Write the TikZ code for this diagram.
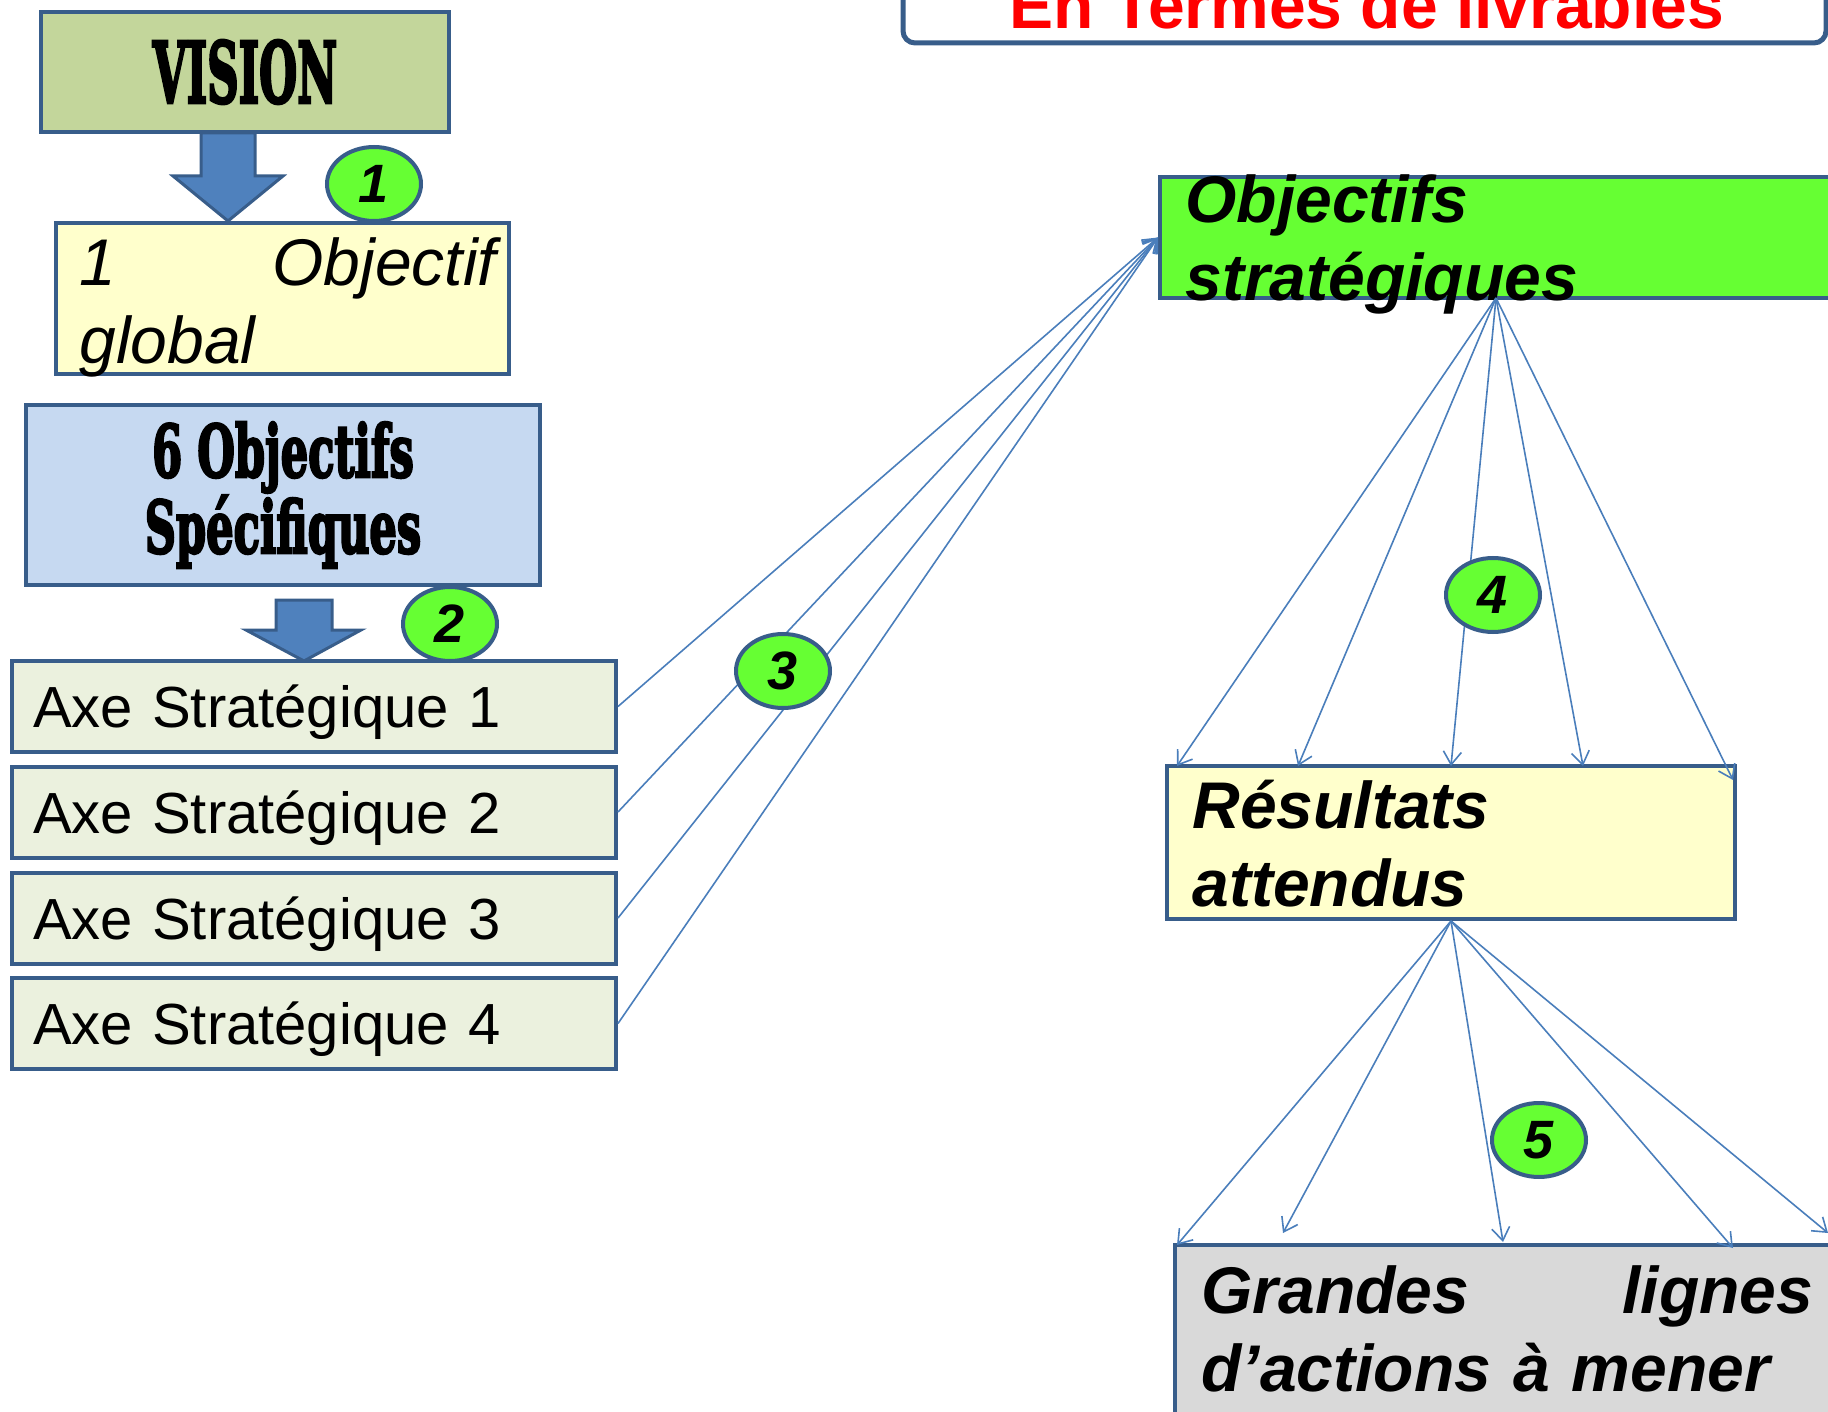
\documentclass[tikz,border=0pt]{standalone}
\usepackage{fontspec}
\usepackage{graphicx}
\setmainfont{Liberation Sans}
\newfontfamily\heavyfont{DejaVu Serif}[BoldFeatures={FakeBold=4}]
\usetikzlibrary{arrows.meta,shapes.geometric}
\definecolor{boxline}{HTML}{385D8A}
\definecolor{linkblue}{HTML}{4A7EBB}
\definecolor{arrowfill}{HTML}{4F81BD}
\definecolor{visionfill}{HTML}{C3D69B}
\definecolor{paleyellow}{HTML}{FFFFCC}
\definecolor{specfill}{HTML}{C6D9F1}
\definecolor{axefill}{HTML}{EBF1DE}
\definecolor{flashgreen}{HTML}{66FF33}
\definecolor{greyfill}{HTML}{D9D9D9}
\newcommand{\narrow}[2]{\scalebox{#1}[1]{#2}}
\begin{document}
\begin{tikzpicture}[x=0.5pt, y=-0.5pt]
\tikzset{box/.style={draw=boxline, line width=2pt, inner sep=0pt},
  axe/.style={box, fill=axefill, minimum width=302pt, minimum height=45.5pt, text width=281pt, text depth=0pt, align=left, font=\fontsize{29}{34}\selectfont},
  bigtxt/.style={inner sep=0pt, anchor=base west, align=left, text width=250pt, font=\fontsize{33}{39}\selectfont\bfseries\itshape},
  num/.style={ellipse, draw=boxline, line width=2pt, fill=flashgreen, minimum width=47pt, minimum height=37pt, inner sep=0pt, font=\fontsize{27}{27}\selectfont\bfseries\itshape},
  link/.style={draw=linkblue, line width=0.8pt, -{Straight Barb[length=6.5pt,width=9pt]}},
  blockarrow/.style={draw=boxline, line width=1.5pt, fill=arrowfill, line join=miter}}
\useasboundingbox (0,0) rectangle (1828,1412);
\clip (0,0) rectangle (1828,1412);

\node[box, rounded corners=6pt, line width=2.5pt, minimum width=461.5pt, minimum height=71.5pt] (titlebox) at (1364.5,-28.5) {};
\node[anchor=base, inner sep=0pt, text=red, font=\fontsize{33}{33}\selectfont\bfseries] (title) at (1367,29) {En Termes de livrables};

\node[box, fill=visionfill, minimum width=204pt, minimum height=60pt] (vision) at (245,72) {\heavyfont\bfseries\fontsize{42}{42}\selectfont\narrow{0.52}{VISION}};
\node[box, fill=paleyellow, minimum width=226.5pt, minimum height=75.5pt] (global) at (282.5,298.5) {};
\node[bigtxt, font=\fontsize{33}{39}\selectfont\itshape, text width=208.5pt] (globaltxt) at (79,286) {1\hfill Objectif\\global};
\node[box, fill=specfill, minimum width=257pt, minimum height=90pt, align=center, font=\heavyfont\bfseries\fontsize{36}{38}\selectfont] (spec) at (283,495) {\narrow{0.6}{6 Objectifs}\\\narrow{0.6}{Spécifiques}};

\draw[blockarrow] (201,133) -- (255,133) -- (255,176) -- (283,176) -- (228,221) -- (173,176) -- (201,176) -- cycle;
\draw[blockarrow] (276,600) -- (332,600) -- (332,630) -- (361,630) -- (304,661) -- (246,630) -- (276,630) -- cycle;

\node[axe] (axe1) at (314,706.5) {Axe Stratégique 1};
\node[axe] (axe2) at (314,812) {Axe Stratégique 2};
\node[axe] (axe3) at (314,918) {Axe Stratégique 3};
\node[axe] (axe4) at (314,1023.5) {Axe Stratégique 4};

\node[box, fill=flashgreen, minimum width=370pt, minimum height=60.5pt] (strat) at (1530,237.5) {};
\node[bigtxt] (strattxt) at (1185,223) {Objectifs\\stratégiques};
\node[box, fill=paleyellow, minimum width=284pt, minimum height=76.5pt] (res) at (1451,842.5) {};
\node[bigtxt] (restxt) at (1192,828) {Résultats\\attendus};
\node[box, fill=greyfill, minimum width=362.5pt, minimum height=102.5pt] (lignes) at (1537.5,1347.5) {};
\node[bigtxt, text width=306pt] (lignestxt) at (1201,1313) {Grandes\hfill lignes\\d’actions à mener};

% connectors
\foreach \i in {1,...,4}
  \draw[link] (axe\i.east) -- (strat.west);

\coordinate (sfoot) at (1496,298);
\coordinate (r1) at (1177,766);
\coordinate (r2) at (1298,766);
\coordinate (r3) at (1451,766);
\coordinate (r4) at (1583,766);
\coordinate (r5) at (1733,780);
\foreach \i in {1,...,5}
  \draw[link] (sfoot) -- (r\i);

\coordinate (g1) at (1177,1245);
\coordinate (g2) at (1283,1233);
\coordinate (g3) at (1503,1242);
\coordinate (g4) at (1733,1248);
\coordinate (g5) at (1828,1233);
\foreach \i in {1,...,5}
  \draw[link] (res.south) -- (g\i);

\node[num] (n1) at (374,184) {1};
\node[num] (n2) at (450,624) {2};
\node[num] (n3) at (783,671) {3};
\node[num] (n4) at (1493,595) {4};
\node[num] (n5) at (1539,1140) {5};
%\draw[help lines, step=100] (0,0) grid (1828,1412);
\end{tikzpicture}
\end{document}
